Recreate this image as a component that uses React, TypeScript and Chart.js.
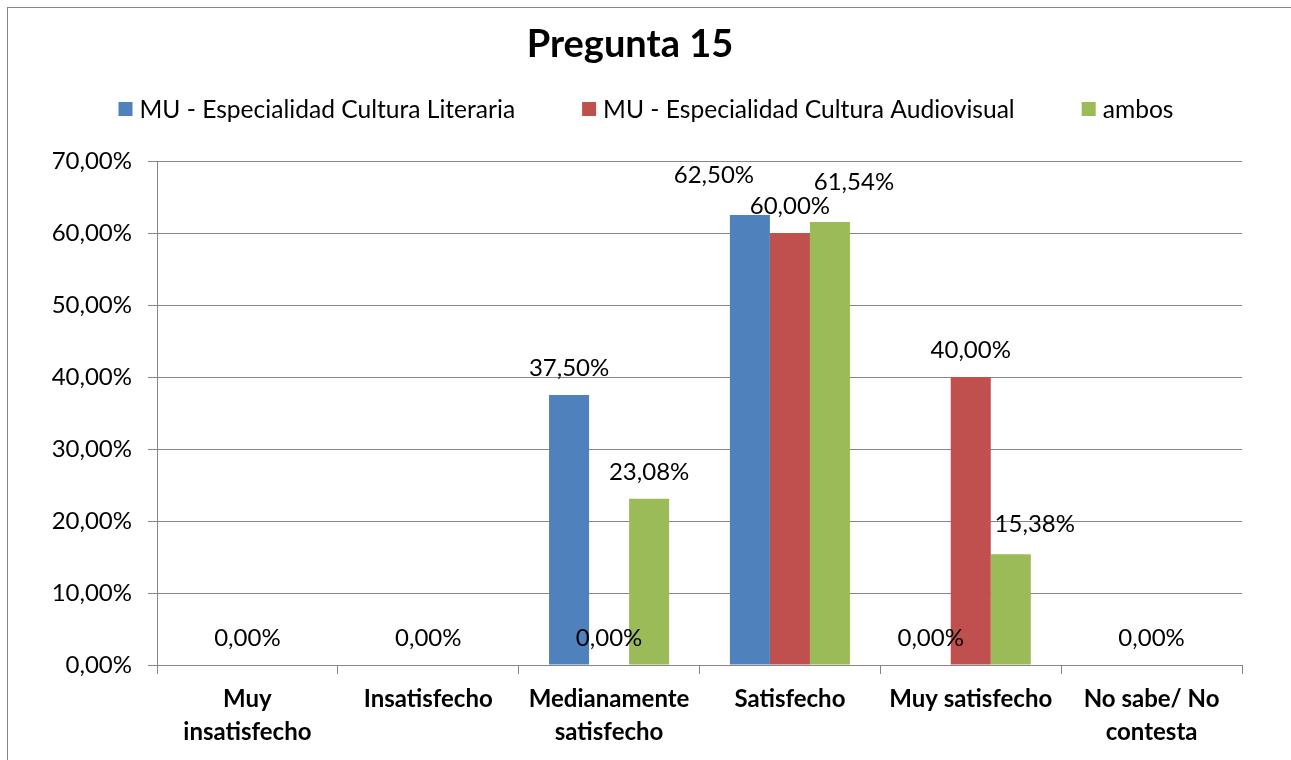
import React, { useEffect, useRef } from 'react';
import { Chart, registerables } from 'chart.js';

Chart.register(...registerables);

// ---------- data ----------
const TITLE = 'Pregunta 15';
const CATEGORIES: (string | string[])[] = [
  ['Muy', 'insatisfecho'],
  'Insatisfecho',
  ['Medianamente', 'satisfecho'],
  'Satisfecho',
  'Muy satisfecho',
  ['No sabe/ No', 'contesta'],
];
const SERIES_NAMES = [
  'MU - Especialidad Cultura Literaria',
  'MU - Especialidad Cultura Audiovisual',
  'ambos',
];
const LITERARIA: (number | null)[] = [null, null, 37.5, 62.5, 0, null];
const AUDIOVISUAL: (number | null)[] = [0, 0, 0, 60, 40, 0];
const AMBOS: (number | null)[] = [null, null, 23.08, 61.54, 15.38, null];
const Y_MIN = 0;
const Y_MAX = 70;
const Y_STEP = 10;

// ---------- style ----------
const COLORS = ['#4F81BD', '#C0504D', '#9BBB59'];
const GRID = '#868686';
const FONT = 'Lato, "Open Sans", sans-serif';
const TEXT = '#000000';
// label nudges (Excel moved overlapping labels): key = "dataset:index" -> [dx, dy]
const LABEL_NUDGE: Record<string, [number, number]> = {
  '0:3': [-36, -13],
  '2:3': [24, -13],
  '2:4': [24, -3],
};

const fmt = (v: number) => v.toFixed(2).replace('.', ',') + '%';

const dataLabels = {
  id: 'dataLabels',
  afterDatasetsDraw(chart: any) {
    const ctx = chart.ctx;
    ctx.save();
    ctx.font = `24px ${FONT}`;
    ctx.fillStyle = TEXT;
    ctx.textAlign = 'center';
    ctx.textBaseline = 'alphabetic';
    chart.data.datasets.forEach((ds: any, di: number) => {
      const meta = chart.getDatasetMeta(di);
      meta.data.forEach((el: any, i: number) => {
        const v = ds.data[i];
        if (v === null || v === undefined) return;
        const [dx, dy] = LABEL_NUDGE[`${di}:${i}`] || [0, 0];
        ctx.fillText(fmt(v), el.x + dx, el.y - 19 + dy);
      });
    });
    ctx.restore();
  },
};

const customLegend = {
  id: 'customLegend',
  afterDraw(chart: any) {
    const ctx = chart.ctx;
    ctx.save();
    ctx.font = `24.6px ${FONT}`;
    ctx.textBaseline = 'middle';
    ctx.textAlign = 'left';
    const box = 14;
    const gapBox = 7;
    const gapItem = 67;
    const names = chart.data.datasets.map((d: any) => d.label);
    const widths = names.map((n: string) => box + gapBox + ctx.measureText(n).width);
    const total = widths.reduce((a: number, b: number) => a + b, 0) + gapItem * (names.length - 1);
    let x = 638 - total / 2;
    const y = 101;
    names.forEach((n: string, i: number) => {
      ctx.fillStyle = chart.data.datasets[i].backgroundColor;
      ctx.fillRect(x, y - box / 2, box, box);
      ctx.fillStyle = TEXT;
      ctx.fillText(n, x + box + gapBox, y + 1);
      x += widths[i] + gapItem;
    });
    ctx.restore();
  },
};

export default function App() {
  const ref = useRef<HTMLCanvasElement | null>(null);
  useEffect(() => {
    if (!ref.current) return;
    const chart = new Chart(ref.current, {
      type: 'bar',
      data: {
        labels: CATEGORIES as any,
        datasets: [LITERARIA, AUDIOVISUAL, AMBOS].map((d, i) => ({
          label: SERIES_NAMES[i],
          data: d as any,
          backgroundColor: COLORS[i],
          borderWidth: 0,
          categoryPercentage: 0.664,
          barPercentage: 1,
        })),
      },
      options: {
        animation: false,
        responsive: false,
        maintainAspectRatio: false,
        devicePixelRatio: 1,
        layout: { padding: { left: 10, right: 49, top: 0, bottom: 0 } },
        plugins: {
          legend: { display: false },
          tooltip: { enabled: false },
          title: {
            display: true,
            text: TITLE,
            color: TEXT,
            font: { family: FONT, size: 38, weight: 'bold', lineHeight: 1.2 },
            padding: { top: 14, bottom: 93.4 },
          },
        },
        scales: {
          x: {
            grid: {
              display: true,
              drawOnChartArea: false,
              drawTicks: true,
              tickLength: 9,
              color: GRID,
              offset: true,
            },
            border: { display: true, color: GRID, width: 1 },
            ticks: {
              color: TEXT,
              font: { family: FONT, size: 24, weight: 'bold', lineHeight: '33px' as any },
              padding: 9,
              maxRotation: 0,
              autoSkip: false,
            },
            afterFit: (s: any) => {
              s.height = 95;
            },
          },
          y: {
            min: Y_MIN,
            max: Y_MAX,
            grid: { color: GRID, tickLength: 9, lineWidth: 1 },
            border: { display: true, color: GRID, width: 1 },
            ticks: {
              stepSize: Y_STEP,
              color: TEXT,
              font: { family: FONT, size: 24 },
              padding: 16,
              callback: (v: any) => fmt(Number(v)),
            },
            afterFit: (s: any) => {
              s.width = 139;
            },
          },
        },
      },
      plugins: [dataLabels, customLegend],
    });
    return () => chart.destroy();
  }, []);

  return (
    <div
      style={{
        position: 'absolute',
        left: 7,
        top: 7,
        width: 1300,
        height: 800,
        border: `1px solid ${GRID}`,
        background: '#fff',
        overflow: 'hidden',
      }}
    >
      <canvas ref={ref} width={1283} height={752} style={{ display: 'block', width: 1283, height: 752 }} />
    </div>
  );
}
